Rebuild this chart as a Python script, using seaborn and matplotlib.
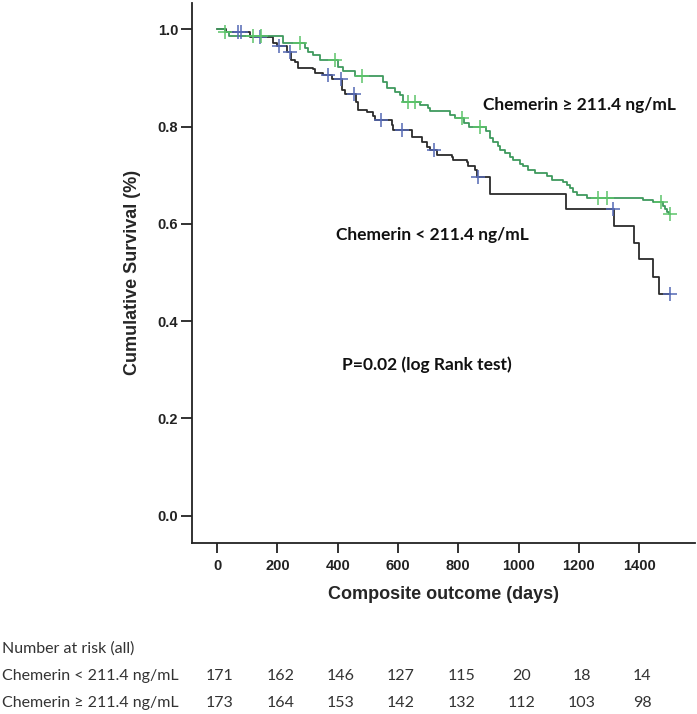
import numpy as np
import pandas as pd
import matplotlib
matplotlib.use("Agg")
import matplotlib.pyplot as plt
import matplotlib.transforms as mtransforms
import seaborn as sns

# Kaplan-Meier steps (days, survival after the drop)
low_days = [0, 30, 110, 187, 198, 231, 245, 259, 269, 318, 325, 352, 380, 413, 424,
            462, 467, 496, 516, 524, 579, 585, 646, 679, 698, 705, 729, 778, 783,
            828, 833, 856, 862, 905, 1156, 1317, 1383, 1398, 1445, 1467, 1503]
low_surv = [1.0, 0.994, 0.985, 0.972, 0.966, 0.954, 0.937, 0.933, 0.920, 0.918, 0.910,
            0.906, 0.897, 0.875, 0.866, 0.851, 0.834, 0.830, 0.822, 0.814, 0.803,
            0.792, 0.778, 0.769, 0.757, 0.752, 0.742, 0.738, 0.731, 0.728, 0.718,
            0.711, 0.697, 0.662, 0.631, 0.595, 0.561, 0.527, 0.491, 0.455, 0.455]
low_censor = [71, 78, 143, 205, 242, 367, 410, 455, 543, 612, 721, 867, 1312, 1503]

high_days = [0, 25, 40, 220, 292, 302, 318, 342, 402, 419, 458, 552, 563, 590, 607,
             618, 673, 701, 706, 773, 790, 819, 836, 892, 905, 914, 933, 939, 955,
             972, 983, 1005, 1016, 1033, 1055, 1093, 1110, 1149, 1160, 1171, 1182,
             1193, 1226, 1413, 1446, 1478, 1486, 1493, 1498, 1503]
high_surv = [1.0, 0.994, 0.987, 0.972, 0.961, 0.954, 0.947, 0.937, 0.923, 0.914,
             0.903, 0.892, 0.879, 0.872, 0.865, 0.851, 0.844, 0.838, 0.831, 0.824,
             0.817, 0.807, 0.800, 0.790, 0.776, 0.769, 0.759, 0.752, 0.745, 0.738,
             0.731, 0.724, 0.718, 0.711, 0.704, 0.698, 0.691, 0.687, 0.680, 0.673,
             0.666, 0.659, 0.654, 0.649, 0.644, 0.637, 0.631, 0.625, 0.620, 0.620]
high_censor = [27, 120, 146, 275, 391, 480, 635, 657, 811, 872, 1265, 1293, 1472, 1503]

risk_days = [0, 200, 400, 600, 800, 1000, 1200, 1400]
risk_low = [171, 162, 146, 127, 115, 20, 18, 14]
risk_high = [173, 164, 153, 142, 132, 112, 103, 98]

low_label = "Chemerin < 211.4 ng/mL"
high_label = "Chemerin \u2265 211.4 ng/mL"


def level_at(days, surv, t):
    idx = np.searchsorted(days, t, side="right") - 1
    return [surv[i] for i in idx]


sns.set_style("ticks")
plt.rcParams["font.family"] = ["Liberation Sans", "DejaVu Sans"]
note_font = ["Lato", "DejaVu Sans"]

fig = plt.figure(figsize=(6.97, 7.14), dpi=100)
ax = fig.add_axes([0.2755, 0.24, 0.7215, 0.7558])

low_df = pd.DataFrame({"days": low_days, "surv": low_surv})
high_df = pd.DataFrame({"days": high_days, "surv": high_surv})

sns.lineplot(data=low_df, x="days", y="surv", drawstyle="steps-post",
             color="#2b2b2b", linewidth=1.3, ax=ax, estimator=None, sort=False)
sns.lineplot(data=high_df, x="days", y="surv", drawstyle="steps-post",
             color="#3f9a5e", linewidth=1.3, ax=ax, estimator=None, sort=False)

low_marks = pd.DataFrame({"days": low_censor,
                          "surv": level_at(low_days, low_surv, low_censor)})
high_marks = pd.DataFrame({"days": high_censor,
                           "surv": level_at(high_days, high_surv, high_censor)})
sns.scatterplot(data=low_marks, x="days", y="surv", marker="+", s=90,
                color="#5468b4", linewidth=1.1, ax=ax, zorder=3)
sns.scatterplot(data=high_marks, x="days", y="surv", marker="+", s=90,
                color="#5cc46a", linewidth=1.1, ax=ax, zorder=3)

ax.set_xlim(-83, 1585)
ax.set_ylim(-0.0555, 1.054)
ax.set_xticks(risk_days)
ax.set_yticks([0.0, 0.2, 0.4, 0.6, 0.8, 1.0])
ax.set_yticklabels(["0.0", "0.2", "0.4", "0.6", "0.8", "1.0"])
sns.despine(ax=ax)
for side in ["left", "bottom"]:
    ax.spines[side].set_linewidth(1.3)
    ax.spines[side].set_color("#222222")
ax.tick_params(axis="x", length=7, width=1.3, pad=5, labelsize=10.5, colors="#222222")
ax.tick_params(axis="y", length=8, width=1.3, pad=2, labelsize=10.5, colors="#222222")
for lab in ax.get_xticklabels() + ax.get_yticklabels():
    lab.set_fontweight("bold")

ax.set_xlabel("Composite outcome (days)", fontsize=13, fontweight="bold", labelpad=9)
ax.set_ylabel("Cumulative Survival (%)", fontsize=13, fontweight="bold", labelpad=12)

ax.text(882, 0.845, high_label, family=note_font, fontsize=12.5,
        fontweight="bold", va="center", ha="left", color="#111111")
ax.text(396, 0.577, low_label, family=note_font, fontsize=12.5,
        fontweight="bold", va="center", ha="left", color="#111111")
ax.text(415, 0.310, "P=0.02 (log Rank test)", family=note_font, fontsize=12.5,
        fontweight="bold", va="center", ha="left", color="#111111")

# number at risk table under the axis
trans = mtransforms.blended_transform_factory(ax.transData, fig.transFigure)
fig.text(0.003, 1 - 649 / 714, "Number at risk (all)", family=note_font,
         fontsize=11.5, va="center", color="#333333")
fig.text(0.003, 1 - 676 / 714, low_label, family=note_font,
         fontsize=11.5, va="center", color="#333333")
fig.text(0.003, 1 - 703 / 714, high_label, family=note_font,
         fontsize=11.5, va="center", color="#333333")
for d, a, b in zip(risk_days, risk_low, risk_high):
    ax.text(d + 10, 1 - 676 / 714, str(a), transform=trans, family=note_font,
            fontsize=11.5, ha="center", va="center", color="#333333")
    ax.text(d + 10, 1 - 703 / 714, str(b), transform=trans, family=note_font,
            fontsize=11.5, ha="center", va="center", color="#333333")

fig.savefig("out.png", dpi=100)
plt.close(fig)
